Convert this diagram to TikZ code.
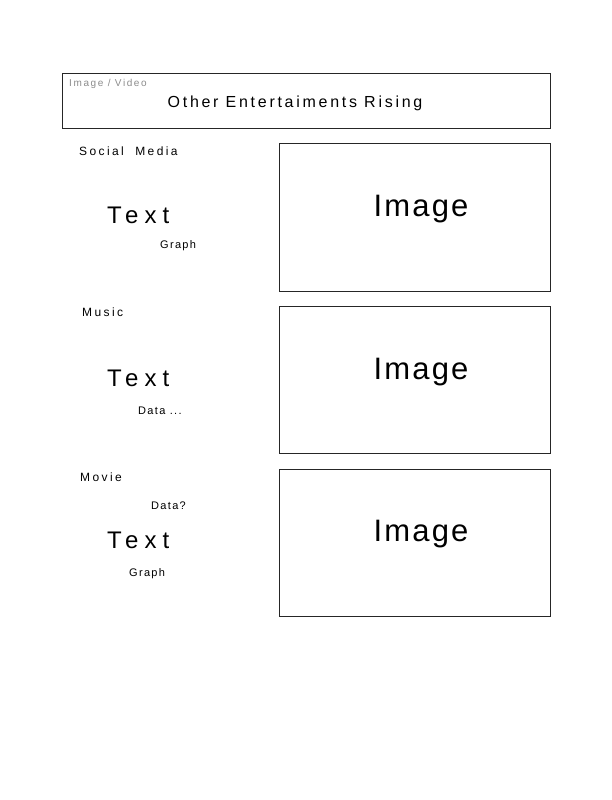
\documentclass[tikz,border=0pt]{standalone}
\usepackage{fontspec}
\setmainfont{Liberation Sans}
\newcommand{\spaced}[1]{\addfontfeature{LetterSpace=#1}}
\begin{document}
\begin{tikzpicture}[x=1pt,y=-1pt,
  frame/.style={draw=black!85,line width=0.9pt},
  hint/.style={font=\fontsize{10}{12}\selectfont\spaced{16},text=black!45,anchor=west,inner sep=0pt},
  title/.style={font=\fontsize{16}{19}\selectfont\spaced{17},inner sep=0pt},
  label/.style={font=\fontsize{12}{14}\selectfont\spaced{20},anchor=west,inner sep=0pt},
  bigtext/.style={font=\fontsize{24}{28}\selectfont\spaced{25},anchor=west,inner sep=0pt},
  note/.style={font=\fontsize{11}{13}\selectfont\spaced{12},anchor=west,inner sep=0pt},
  imgtext/.style={font=\fontsize{31}{35}\selectfont\spaced{7},inner sep=0pt}]
\useasboundingbox[fill=white] (0,0) rectangle (612,800);

% header banner
\draw[frame] (62,73) rectangle (550,128);
\node[hint] (hdrhint) at (69,84) {Image / Video};
\node[title] (hdr) at (295,103) {Other Entertaiments Rising};

% image placeholders
\draw[frame] (279,143) rectangle (550,291);
\node[imgtext] (img1) at (421,209) {Image};
\draw[frame] (279,306) rectangle (550,453);
\node[imgtext] (img2) at (421,372) {Image};
\draw[frame] (279,469) rectangle (550,616);
\node[imgtext] (img3) at (421,534) {Image};

% social media section
\node[label] (sm) at (79,151) {Social\ \ Media};
\node[bigtext] (t1) at (107,215) {Text};
\node[note] (g1) at (160,246) {Graph};

% music section
\node[label] (mu) at (82,312) {Music};
\node[bigtext] (t2) at (107,378) {Text};
\node[note] (d2) at (138,411) {Data ...};

% movie section
\node[label] (mv) at (80,477) {Movie};
\node[note] (d3) at (151,506) {Data?};
\node[bigtext] (t3) at (107,540) {Text};
\node[note] (g3) at (129,574) {Graph};
\end{tikzpicture}
\end{document}
